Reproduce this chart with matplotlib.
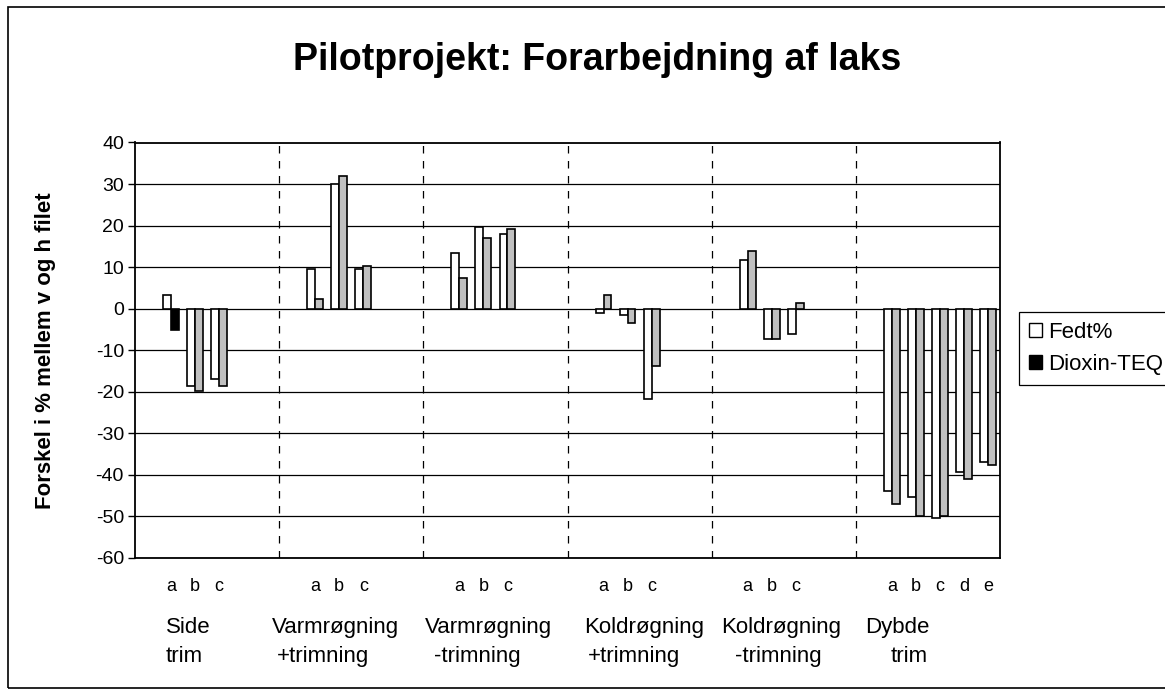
import numpy as np
import matplotlib
matplotlib.use("Agg")
import matplotlib.pyplot as plt
from matplotlib.patches import Patch, Rectangle

plt.rcParams['font.family'] = ['Liberation Sans', 'DejaVu Sans']
plt.rcParams['axes.unicode_minus'] = False

# groups of treatments, each takes 6 category slots on the x axis
group_line1 = ["Side", "Varmrøgning", "Varmrøgning", "Koldrøgning", "Koldrøgning", "Dybde"]
group_line2 = ["trim", "+trimning", "-trimning", "+trimning", "-trimning", "trim"]
sub_labels = [["a", "b", "c"], ["a", "b", "c"], ["a", "b", "c"],
              ["a", "b", "c"], ["a", "b", "c"], ["a", "b", "c", "d", "e"]]
slots_per_group = 6

# % difference between front and back fillet
fedt = [3.2, -18.5, -16.8,
        9.6, 30.0, 9.6,
        13.5, 19.6, 17.9,
        -1.1, -1.6, -21.7,
        11.8, -7.2, -6.0,
        -43.8, -45.2, -50.4, -39.2, -37.0]
dioxin = [-5.1, -19.8, -18.5,
          2.3, 31.9, 10.2,
          7.5, 17.1, 19.2,
          3.2, -3.4, -13.7,
          14.0, -7.2, 1.4,
          -46.9, -50.0, -50.0, -40.9, -37.5]

# x position (slot index) for every sample, first slot of each group left empty
xpos = []
letters = []
for g, subs in enumerate(sub_labels):
    for k, s in enumerate(subs):
        xpos.append(g * slots_per_group + 1 + k)
        letters.append(s)
xpos = np.array(xpos)

fig = plt.figure(figsize=(11.65, 6.95), dpi=100)
ax = fig.add_axes([135 / 1165, 1 - 558 / 695, 865 / 1165, 415.5 / 695])

w = 0.33
ax.bar(xpos - w / 2, fedt, width=w, color='white', edgecolor='black', linewidth=1.2, zorder=3)
diox_colors = ['black'] + ['#c0c0c0'] * (len(dioxin) - 1)
ax.bar(xpos + w / 2, dioxin, width=w, color=diox_colors, edgecolor='black', linewidth=1.2, zorder=3)

n_slots = slots_per_group * len(sub_labels)
ax.set_xlim(-0.5, n_slots - 0.5)
ax.set_ylim(-60, 40)
ax.set_yticks(np.arange(-60, 41, 10))
ax.tick_params(axis='y', direction='out', length=5, width=1, labelsize=14, pad=3)
ax.set_xticks([])
ax.yaxis.grid(True, color='black', linewidth=0.9, zorder=1)
ax.set_axisbelow(True)
for sp in ax.spines.values():
    sp.set_linewidth(1.3)
    sp.set_color('black')

# dashed separators between groups
for g in range(1, len(sub_labels)):
    ax.axvline(g * slots_per_group - 0.5, color='black', linewidth=0.9,
               linestyle=(0, (6, 6)), zorder=2)

# sample letters and group names below the axis
for x, s in zip(xpos, letters):
    ax.text(x, -66.8, s, ha='center', va='center', fontsize=13, clip_on=False)
line1_x = [0.79, 5.2, 11.55, 18.18, 23.91, 29.9]
line2_x = [0.79, 5.41, 11.93, 18.33, 24.47, 30.95]
for g in range(len(group_line1)):
    ax.text(line1_x[g], -76.7, group_line1[g], ha='left', va='center', fontsize=16, clip_on=False)
    ax.text(line2_x[g], -83.6, group_line2[g], ha='left', va='center', fontsize=16, clip_on=False)

ax.set_ylabel('Forskel i % mellem v og h filet', fontsize=16, fontweight='bold')
ax.yaxis.set_label_coords((56 - 135) / 865, 0.5)
fig.text(597 / 1165, 1 - 60 / 695, 'Pilotprojekt: Forarbejdning af laks',
         ha='center', va='center', fontsize=27, fontweight='bold')

handles = [Patch(facecolor='white', edgecolor='black', linewidth=1),
           Patch(facecolor='black', edgecolor='black', linewidth=1)]
leg = fig.legend(handles, ['Fedt%', 'Dioxin-TEQ'], loc='upper left',
                 bbox_to_anchor=(1019 / 1165, 1 - 312 / 695), fontsize=16,
                 fancybox=False, edgecolor='black', framealpha=1,
                 handlelength=0.6, handleheight=0.6, handletextpad=0.25,
                 borderpad=0.45, labelspacing=0.5, borderaxespad=0)
leg.get_frame().set_linewidth(0.9)

# outer chart frame
fig.patches.append(Rectangle((8 / 1165, 7 / 695), 1.2, 681 / 695, transform=fig.transFigure,
                             fill=False, edgecolor='black', linewidth=1.2))

fig.savefig('out.png', dpi=100)
